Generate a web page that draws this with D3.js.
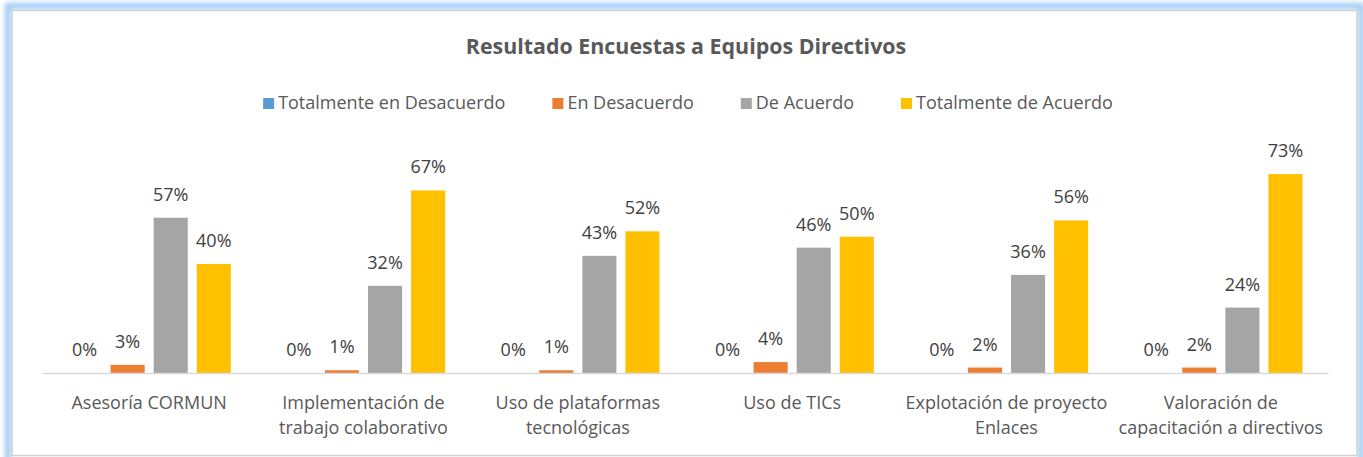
<!DOCTYPE html>
<html>
<head>
<meta charset="utf-8">
<script src="https://cdn.jsdelivr.net/npm/d3@7"></script>
<style>
  html, body { margin: 0; padding: 0; background: #fff; }
  svg { display: block; font-family: "Open Sans", sans-serif; }
</style>
</head>
<body>
<svg id="chart" width="1363" height="457"></svg>
<script>
const categories = [
  ["Asesoría CORMUN"],
  ["Implementación de", "trabajo colaborativo"],
  ["Uso de plataformas", "tecnológicas"],
  ["Uso de TICs"],
  ["Explotación de proyecto", "Enlaces"],
  ["Valoración de", "capacitación a directivos"]
];
const seriesNames = ["Totalmente en Desacuerdo", "En Desacuerdo", "De Acuerdo", "Totalmente de Acuerdo"];
const seriesColors = ["#5B9BD5", "#ED7D31", "#A5A5A5", "#FFC000"];
const totDesacuerdo = [0, 0, 0, 0, 0, 0];
const enDesacuerdo = [3, 1, 1, 4, 2, 2];
const deAcuerdo = [57, 32, 43, 46, 36, 24];
const totAcuerdo = [40, 67, 52, 50, 56, 73];
const series = [totDesacuerdo, enDesacuerdo, deAcuerdo, totAcuerdo];
const title = "Resultado Encuestas a Equipos Directivos";

const svg = d3.select("#chart");

// frame with soft blue glow
const defs = svg.append("defs");
const f = defs.append("filter").attr("id", "glow").attr("x", "-5%").attr("y", "-5%").attr("width", "110%").attr("height", "110%");
f.append("feGaussianBlur").attr("stdDeviation", 2.5);
svg.append("rect").attr("x", 8).attr("y", 6).attr("width", 1353).attr("height", 460)
  .attr("fill", "none").attr("stroke", "#9CCBF5").attr("stroke-width", 6).attr("filter", "url(#glow)");
svg.append("rect").attr("x", 12).attr("y", 10.5).attr("width", 1345).attr("height", 445)
  .attr("fill", "#fff").attr("stroke", "#D0D0D0").attr("stroke-width", 1.5);

// title
svg.append("text").attr("x", 686).attr("y", 54).attr("text-anchor", "middle")
  .attr("font-size", 21.4).attr("font-weight", "bold").attr("fill", "#595959").text(title);

// scales
const x0 = d3.scaleBand().domain(d3.range(categories.length)).range([42, 1328]).paddingInner(0).paddingOuter(0);
const groupPad = 25.5;
const x1 = d3.scaleBand().domain(d3.range(series.length))
  .range([groupPad, x0.bandwidth() - groupPad]).paddingInner(9 / 43).paddingOuter(0);
const y = d3.scaleLinear().domain([0, 57]).range([373, 217.7]);

// bars
const g = svg.append("g");
series.forEach((vals, si) => {
  g.selectAll(null).data(vals).enter().append("rect")
    .attr("x", (d, i) => x0(i) + x1(si))
    .attr("y", d => y(d))
    .attr("width", x1.bandwidth())
    .attr("height", d => y(0) - y(d))
    .attr("fill", seriesColors[si]);
  g.selectAll(null).data(vals).enter().append("text")
    .attr("x", (d, i) => x0(i) + x1(si) + x1.bandwidth() / 2)
    .attr("y", d => y(d) - 17)
    .attr("text-anchor", "middle").attr("font-size", 18).attr("fill", "#404040")
    .text(d => d + "%");
});

// axis
const axis = d3.axisBottom(x0).tickSize(0).tickFormat("");
const ag = svg.append("g").attr("transform", "translate(0,373)").call(axis);
ag.select(".domain").attr("stroke", "#D9D9D9").attr("stroke-width", 1.5);

// category labels
categories.forEach((lines, i) => {
  const t = svg.append("text").attr("text-anchor", "middle").attr("font-size", 18).attr("fill", "#595959");
  lines.forEach((ln, j) => {
    t.append("tspan").attr("x", x0(i) + x0.bandwidth() / 2).attr("y", 409 + j * 25).text(ln);
  });
});

// legend
const lg = svg.append("g");
let cx = 0;
const gap = 47;
seriesNames.forEach((n, i) => {
  const it = lg.append("g");
  it.append("rect").attr("x", 0).attr("y", -11).attr("width", 11).attr("height", 11).attr("fill", seriesColors[i]);
  const tx = it.append("text").attr("x", 15).attr("y", 0).attr("font-size", 18).attr("fill", "#595959").text(n);
  const w = 15 + tx.node().getComputedTextLength();
  it.attr("transform", `translate(${cx},0)`);
  cx += w + gap;
});
const totalW = cx - gap;
lg.attr("transform", `translate(${688 - totalW / 2},109)`);
</script>
</body>
</html>
